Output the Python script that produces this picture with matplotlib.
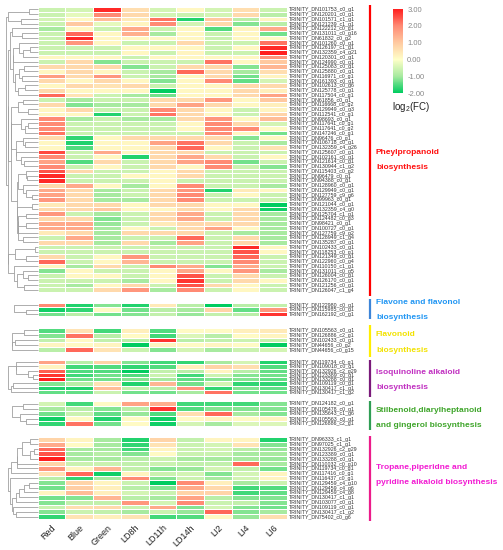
import numpy as np
import matplotlib
matplotlib.use('Agg')
import matplotlib.pyplot as plt
from matplotlib.colors import LinearSegmentedColormap

plt.rcParams['font.family'] = ['Liberation Sans', 'DejaVu Sans']
plt.rcParams['mathtext.default'] = 'regular'

# ---------------- data ----------------
samples = ['Red', 'Blue', 'Green', 'LD8h', 'LD11h', 'LD14h', 'LI2', 'LI4', 'LI6']

g1_labels = [
    'TRINITY_DN101753_c0_g1', 'TRINITY_DN120201_c0_g1', 'TRINITY_DN101571_c1_g1',
    'TRINITY_DN121239_c1_g1', 'TRINITY_DN122212_c0_g1', 'TRINITY_DN131011_c0_g16',
    'TRINITY_DN61832_c0_g2', 'TRINITY_DN101260_c0_g1', 'TRINITY_DN126197_c1_g1',
    'TRINITY_DN132359_c4_g21', 'TRINITY_DN120301_c0_g1', 'TRINITY_DN124990_c0_g1',
    'TRINITY_DN125083_c0_g1', 'TRINITY_DN125880_c0_g1', 'TRINITY_DN116971_c0_g1',
    'TRINITY_DN161393_c0_g1', 'TRINITY_DN102613_c0_g6', 'TRINITY_DN125778_c0_g1',
    'TRINITY_DN117504_c0_g1', 'TRINITY_DN61856_c0_g1', 'TRINITY_DN116668_c0_g2',
    'TRINITY_DN129949_c0_g3', 'TRINITY_DN112541_c0_g1', 'TRINITY_DN98693_c0_g1',
    'TRINITY_DN117641_c0_g1', 'TRINITY_DN117641_c0_g2', 'TRINITY_DN147246_c0_g1',
    'TRINITY_DN96476_c0_g1', 'TRINITY_DN106718_c0_g1', 'TRINITY_DN132359_c4_g26',
    'TRINITY_DN125607_c0_g1', 'TRINITY_DN102161_c0_g1', 'TRINITY_DN121614_c0_g1',
    'TRINITY_DN130944_c1_g2', 'TRINITY_DN115403_c0_g2', 'TRINITY_DN96479_c0_g1',
    'TRINITY_DN94388_c0_g1', 'TRINITY_DN128960_c0_g1', 'TRINITY_DN129949_c0_g1',
    'TRINITY_DN127759_c9_g6', 'TRINITY_DN99963_c0_g1', 'TRINITY_DN121044_c0_g1',
    'TRINITY_DN132359_c4_g0', 'TRINITY_DN125704_c1_g1', 'TRINITY_DN124482_c0_g3',
    'TRINITY_DN98421_c0_g1', 'TRINITY_DN100727_c0_g1', 'TRINITY_DN127759_c9_g2',
    'TRINITY_DN128949_c1_g4', 'TRINITY_DN135287_c0_g1', 'TRINITY_DN102433_c0_g1',
    'TRINITY_DN118253_c0_g1', 'TRINITY_DN121349_c0_g1', 'TRINITY_DN122960_c0_g4',
    'TRINITY_DN110150_c1_g1', 'TRINITY_DN131011_c0_g5', 'TRINITY_DN126004_c0_g1',
    'TRINITY_DN126170_c0_g1', 'TRINITY_DN121256_c0_g1', 'TRINITY_DN126047_c1_g4']
g1_values = [
    [-0.6, -0.5, 2.9, 0.6, -0.5, 0.15, -0.5, 0.6, -0.6],
    [-0.6, -0.3, 2.0, 0.7, -0.5, -0.6, -0.5, 0.7, -0.8],
    [-0.5, 0.15, 1.2, 0.4, 2.2, -1.8, 1.0, -0.8, 0.2],
    [-0.6, 1.0, -0.3, 0.2, 2.0, -0.5, 0.7, -1.2, -0.8],
    [-1.0, 0.15, -0.6, 1.5, -0.6, 0.15, -1.5, 0.2, 1.5],
    [-0.6, 2.3, 0.15, 1.4, -1.0, 0.15, -0.6, 0.15, -1.3],
    [-0.6, 2.9, 0.15, 0.15, 0.15, 0.15, -0.6, 0.15, 0.1],
    [-0.6, 1.8, 0.15, -0.6, -0.6, 0.7, -0.6, -0.6, 2.2],
    [-0.6, -0.6, -0.6, 0.15, 0.15, 0.15, -0.6, 0.15, 2.9],
    [-0.6, -0.6, -0.6, 0.15, -0.6, 0.2, -0.6, -0.6, 3.0],
    [0.15, 0.15, 0.15, -0.6, 0.15, 0.15, 0.15, 0.15, 1.8],
    [-0.6, 0.7, -1.2, -0.6, -0.6, -0.6, 2.2, 0.15, 1.0],
    [0.7, 0.7, 0.7, -1.2, -0.6, 0.7, 0.7, -1.2, 1.3],
    [0.15, 0.7, 0.15, -0.6, -1.0, 2.3, 0.7, -1.0, 0.6],
    [1.7, 0.7, 1.8, -0.6, -1.0, 0.15, 0.7, -1.3, 0.2],
    [0.7, 0.15, 0.7, 0.15, -1.2, 0.15, 2.0, -1.4, -0.5],
    [0.15, 0.7, 0.5, 0.7, -0.6, 0.15, 0.15, 0.7, 0.7],
    [0.7, 0.15, 0.15, 0.15, -2.0, 0.15, 0.15, 0.7, 0.3],
    [2.3, 0.5, -0.6, -1.0, -1.3, 0.15, 0.15, 0.7, 1.6],
    [-0.6, -1.0, -0.6, -0.6, 0.7, 0.7, 1.8, 0.15, 1.0],
    [0.7, -1.2, -1.0, -1.0, 0.7, 1.6, 0.7, 0.15, 0.3],
    [0.15, 0.7, -0.6, -0.6, 2.0, 0.7, 0.15, -0.6, 0.2],
    [0.15, 0.15, -1.8, -0.6, 2.2, 0.7, 0.15, -0.6, 0.8],
    [2.0, -1.0, -0.6, -1.0, -1.0, 0.7, 1.8, 0.15, 1.2],
    [2.0, -0.6, -0.6, -0.6, -0.6, 0.15, 2.0, 0.7, -0.5],
    [2.0, -0.6, -0.6, -0.6, -0.6, 0.15, 2.0, 2.0, 0.1],
    [2.2, -0.6, -0.6, -0.6, -0.6, -0.6, 2.0, 0.15, -1.3],
    [0.7, -1.7, 0.15, 0.7, 0.7, 0.7, 0.7, -1.2, 0.15],
    [0.15, -1.8, 0.15, 0.15, 1.6, 2.2, 0.7, -0.6, -1.0],
    [0.15, -1.5, 0.15, 0.15, 0.7, 2.3, 0.15, -0.6, 0.5],
    [2.6, -0.6, 1.5, 0.15, 0.7, 0.7, -0.6, -0.6, -0.6],
    [2.0, -0.6, 0.15, -1.8, 0.7, 1.5, 0.7, -0.6, 0.15],
    [1.6, -1.5, 0.7, -0.6, 0.7, 1.6, 2.0, -1.3, -0.6],
    [2.0, -0.6, 0.15, -0.6, 0.7, 0.15, 2.0, -0.6, -1.2],
    [2.5, 0.7, -0.6, -0.6, 0.15, 0.7, -0.6, -0.6, -0.6],
    [2.9, -0.6, -0.6, 0.15, 0.15, 0.7, -0.6, -0.6, -0.6],
    [2.9, -0.6, -0.6, -0.6, 0.15, -0.6, -0.6, -0.6, -0.6],
    [0.7, 1.5, 0.15, -1.0, 0.15, 2.0, -0.6, -0.6, -1.0],
    [1.5, 0.7, -1.0, -0.6, 0.7, 1.8, -1.8, 0.4, 0.15],
    [1.6, 0.7, -1.0, -0.6, 0.7, 2.0, -0.6, 0.15, -0.6],
    [1.8, 0.7, -1.0, -1.0, 0.7, 2.0, -0.6, -0.6, -0.6],
    [0.4, 0.7, 0.7, 0.15, 0.7, 0.7, 0.15, 0.15, -2.0],
    [0.7, 0.7, 1.0, 0.15, 0.15, 0.7, 0.15, 0.7, -1.9],
    [1.8, -0.6, -1.0, -0.6, 0.7, 1.5, -0.6, 0.7, -1.0],
    [0.7, 0.7, -1.2, -0.6, 0.7, 1.5, -0.6, 0.7, -1.0],
    [1.5, 1.5, -1.1, -0.6, 0.4, 0.7, 0.7, 0.7, -1.0],
    [1.5, 1.5, -1.0, 0.15, -0.6, 0.7, 1.6, 0.15, -1.0],
    [0.4, 0.7, -1.0, 0.7, 0.7, 0.7, -0.6, -1.0, -1.0],
    [-0.6, 1.5, -1.0, -0.6, -0.6, 2.3, -0.6, 0.7, -1.0],
    [0.7, 0.7, -1.0, 0.7, -1.0, 1.6, -0.6, 0.7, -1.0],
    [-0.6, -0.6, -0.6, -0.6, -0.6, -0.6, -0.6, 2.9, 0.15],
    [-0.6, -0.6, -0.6, -0.6, -0.6, -0.6, -0.6, 2.5, 0.15],
    [0.7, -0.6, 0.15, 1.8, -0.6, -0.6, -0.6, 2.3, -0.6],
    [2.3, -0.6, 0.15, 1.3, -0.6, -0.6, -0.6, 2.0, -0.6],
    [0.15, -1.0, 0.7, -0.6, 2.0, 1.5, -1.2, 1.5, -0.6],
    [-1.2, 0.15, -0.6, -0.6, 0.15, 1.5, 0.15, 1.8, -1.0],
    [-0.6, 0.15, 0.15, -0.6, 0.15, 2.5, -0.6, 0.7, -0.6],
    [-0.6, -0.6, -0.6, -1.0, 0.15, 2.8, -0.6, 0.7, 0.15],
    [-0.6, -1.0, 0.15, 0.7, -0.6, 2.5, 0.7, 0.15, -0.6],
    [-0.6, -0.6, 0.7, 1.8, -1.0, 2.0, -0.6, 0.15, -0.6]]

g2_labels = ['TRINITY_DN122980_c0_g1', 'TRINITY_DN115985_c0_g1', 'TRINITY_DN162192_c0_g1']
g2_values = [
    [2.0, -1.8, -1.2, -1.8, 0.4, -0.8, -2.0, -0.8, -0.7],
    [-1.9, -1.7, 0.1, -1.3, -0.8, -1.0, 0.8, -1.4, 1.8],
    [-1.3, -0.8, -1.3, -1.2, -0.7, -1.1, -0.7, -0.8, 2.8]]

g3_labels = ['TRINITY_DN105563_c0_g1', 'TRINITY_DN126886_c2_g1', 'TRINITY_DN102433_c0_g1',
             'TRINITY_DN44656_c0_g2', 'TRINITY_DN44656_c0_g15']
g3_values = [
    [-1.5, 0.5, -1.6, 0.3, -1.5, 0.1, 0.1, 0.3, 0.4],
    [-1.2, 2.2, -0.8, 0.1, -1.6, -0.4, -0.8, 0.1, 0.2],
    [-0.7, 0.1, -0.7, -0.8, 2.8, -0.8, -0.7, -0.6, -0.7],
    [0.2, 0.1, 0.2, -2.0, 0.2, 0.1, 0.2, 0.1, -2.0],
    [-0.8, 2.3, 0.5, -0.6, -1.2, -0.5, -1.0, -0.6, -0.5]]

g4_labels = ['TRINITY_DN119734_c0_g1', 'TRINITY_DN109018_c0_g1', 'TRINITY_DN132926_c2_g29',
             'TRINITY_DN123389_c0_g1', 'TRINITY_DN133288_c0_g1', 'TRINITY_DN109119_c0_g1',
             'TRINITY_DN130417_c1_g1', 'TRINITY_DN130417_c1_g2']
g4_values = [
    [1.6, -0.8, 0.8, -1.2, -1.6, -1.7, -1.0, -0.5, -1.8],
    [0.2, -1.6, -1.5, -1.7, -1.5, 0.3, 0.8, 0.6, -1.5],
    [2.4, -1.5, -1.5, -2.0, -0.7, -0.8, 0.2, -0.8, -1.4],
    [2.8, -1.6, -1.3, -1.5, -0.6, -1.6, -0.6, -1.2, -1.3],
    [3.0, -1.3, -1.3, -1.2, -1.0, -1.4, -1.2, -1.2, -1.4],
    [-1.2, -0.8, 0.5, -1.8, 1.3, -1.3, -0.5, -1.7, -1.7],
    [-1.8, -1.8, 1.2, -0.7, -0.8, 1.8, -1.7, -1.2, -1.4],
    [-1.4, -1.4, -0.6, -1.3, -1.3, -1.0, 2.2, -1.3, -1.3]]

g5_labels = ['TRINITY_DN124182_c0_g1', 'TRINITY_DN105478_c0_g1', 'TRINITY_DN135643_c1_g6',
             'TRINITY_DN105563_c0_g1', 'TRINITY_DN126886_c2_g1']
g5_values = [
    [-0.5, -1.6, 0.1, 1.6, 1.4, -1.6, -1.6, -1.6, -1.2],
    [-1.0, -0.8, -1.2, -0.8, 2.8, -1.5, -1.2, -1.2, -1.2],
    [-1.3, -0.6, -1.4, -1.1, -1.5, 0.6, 2.3, -1.0, -1.2],
    [-1.9, 0.1, -1.8, 0.1, -1.9, 0.1, 0.2, 0.1, 0.2],
    [-1.7, 2.2, -1.3, 0.1, -1.9, -0.5, -1.0, -0.4, -0.4]]

g6_labels = ['TRINITY_DN96333_c1_g1', 'TRINITY_DN97025_c1_g1', 'TRINITY_DN132926_c2_g29',
             'TRINITY_DN123389_c0_g1', 'TRINITY_DN133288_c0_g1', 'TRINITY_DN110032_c0_g10',
             'TRINITY_DN119734_c0_g1', 'TRINITY_DN117416_c0_g1', 'TRINITY_DN116437_c0_g1',
             'TRINITY_DN129459_c4_g10', 'TRINITY_DN129459_c4_g6', 'TRINITY_DN129459_c4_g8',
             'TRINITY_DN130417_c1_g1', 'TRINITY_DN103077_c0_g1', 'TRINITY_DN109119_c0_g1',
             'TRINITY_DN130417_c1_g2', 'TRINITY_DN75402_c0_g6']
g6_values = [
    [0.8, 0.2, -1.0, -1.8, 0.8, -0.7, 0.2, 0.2, -1.8],
    [1.5, 0.1, -1.0, -1.7, 0.5, -0.6, -0.5, 0.5, -1.2],
    [2.3, -1.0, -1.0, -1.6, 0.2, -0.6, -0.5, -0.8, -1.1],
    [2.5, -1.0, -0.8, -1.2, 0.1, -0.6, -0.6, -1.0, -1.0],
    [3.0, -1.0, -1.0, -0.8, -0.6, -1.0, -1.0, -1.0, -1.1],
    [0.8, -0.6, -0.6, -0.7, -0.6, -0.7, -0.7, 2.3, -1.0],
    [1.8, 0.2, 1.3, -0.7, -1.2, -1.1, -0.5, -0.7, -1.3],
    [0.5, 2.3, -1.9, 0.2, -0.6, -0.5, -1.2, -0.5, 0.2],
    [-0.8, -1.7, -1.0, 2.0, -1.2, -0.6, -1.0, -0.5, 0.2],
    [-1.2, 0.8, 0.2, -0.6, -2.0, 2.0, 0.3, -1.0, -0.6],
    [-1.3, 0.9, 0.3, -0.8, -1.2, 1.5, 0.7, -1.6, -1.5],
    [0.2, 1.2, 0.3, -0.5, -0.6, 0.8, 0.8, -1.6, -1.4],
    [-1.3, -1.2, 1.3, -0.8, -1.0, 1.6, -0.8, -1.2, -1.2],
    [-1.2, -0.7, -0.7, 1.8, -0.5, 2.0, -0.6, -0.7, -1.2],
    [-0.6, 0.6, 0.7, -0.6, 1.5, -1.2, -0.5, -1.2, -1.3],
    [-1.2, -0.6, -0.7, -1.0, -0.6, -1.1, 2.3, -1.2, -1.0],
    [-1.7, 0.5, 0.3, 0.5, -1.6, -1.5, 0.1, -1.1, 0.6]]

pathways = [['Pheylpropanoid', 'biosynthesis'],
            ['Flavone and flavonol', 'biosynthesis'],
            ['Flavonoid', 'biosynthesis'],
            ['Isoquinoline alkaloid', 'biosynthesis'],
            ['Stilbenoid,diarylheptanoid', 'and gingerol biosynthesis'],
            ['Tropane,piperidne and', 'pyridine alkaloid biosynthesis']]

groups = [(g1_labels, g1_values), (g2_labels, g2_values), (g3_labels, g3_values),
          (g4_labels, g4_values), (g5_labels, g5_values), (g6_labels, g6_values)]

# ---------------- layout (pixels) ----------------
W, H = 503, 550
heat_x0, heat_x1 = 37.7, 287
heat_spans = [(7, 292), (303, 316), (328, 352), (360, 394), (401, 426), (437, 519)]
dend_root_x = [6, 14, 11.7, 8.3, 11.7, 8.3]
bracket_spans = [(5, 296), (299, 319), (325, 357), (360, 397), (401, 430), (436, 521)]
text_mid = [160, 309.8, 342.5, 379.7, 418.4, 475.4]
line_colors = ['#ff0000', '#3d85d8', '#ffee00', '#7a1a7a', '#2f9e55', '#ec1b8a']
text_colors = ['#ff1010', '#2196f3', '#f2e200', '#c02fc0', '#3ea52a', '#f21ad2']

cmap = LinearSegmentedColormap.from_list('fc', [
    (0.0, '#00cc60'), (0.2, '#a8eaa0'), (0.4, '#ffffc8'),
    (0.6, '#ffc9a0'), (0.8, '#ff8a74'), (1.0, '#ff1f1f')])


def fig_rect(x0, x1, y0, y1):
    return [x0 / W, 1 - y1 / H, (x1 - x0) / W, (y1 - y0) / H]


def adjacent_linkage(vals):
    # average-linkage clustering where only neighbouring clusters may merge
    vals = np.asarray(vals)
    clusters = [{'m': [i], 'y': i + 0.5, 'h': 0.0} for i in range(len(vals))]
    links = []
    while len(clusters) > 1:
        best, bd = 0, None
        for k in range(len(clusters) - 1):
            a, b = clusters[k], clusters[k + 1]
            d = np.mean([np.linalg.norm(vals[i] - vals[j]) for i in a['m'] for j in b['m']])
            if bd is None or d < bd:
                best, bd = k, d
        a, b = clusters[best], clusters[best + 1]
        h = max(bd, a['h'], b['h'])
        links.append((a['y'], a['h'], b['y'], b['h'], h))
        clusters[best:best + 2] = [{'m': a['m'] + b['m'], 'y': (a['y'] + b['y']) / 2, 'h': h}]
    return links, clusters[0]['h']


fig = plt.figure(figsize=(W / 100, H / 100), dpi=100)

for gi, (labels, values) in enumerate(groups):
    y0, y1 = heat_spans[gi]
    data = np.array(values)
    n = len(labels)

    ax = fig.add_axes(fig_rect(heat_x0, heat_x1, y0, y1))
    ax.pcolormesh(data, cmap=cmap, vmin=-2, vmax=3, edgecolors='white', linewidth=0.6)
    ax.set_ylim(n, 0)
    ax.set_xlim(0, len(samples))
    ax.set_yticks(np.arange(n) + 0.5)
    ax.set_yticklabels(labels, fontsize=3.8, color='#333333')
    ax.yaxis.tick_right()
    ax.tick_params(axis='y', length=0, pad=1.5)
    for s in ax.spines.values():
        s.set_visible(False)
    if gi == len(groups) - 1:
        ax.set_xticks(np.arange(len(samples)) + 0.5)
        ax.set_xticklabels(samples, rotation=45, ha='right', rotation_mode='anchor',
                           fontsize=6.5, color='#222222')
        ax.tick_params(axis='x', length=0, pad=3)
    else:
        ax.set_xticks([])

    # dendrogram
    dax = fig.add_axes(fig_rect(dend_root_x[gi], heat_x0, y0, y1))
    links, root_h = adjacent_linkage(data)
    for ya, ha, yb, hb, h in links:
        dax.plot([ha, h, h, hb], [ya, ya, yb, yb], color='#a0a0a0', lw=0.6,
                 solid_capstyle='butt', clip_on=False)
    dax.set_xlim(root_h, 0)
    dax.set_ylim(n, 0)
    dax.axis('off')

# pathway brackets and names
ov = fig.add_axes([0, 0, 1, 1])
ov.set_xlim(0, W)
ov.set_ylim(H, 0)
ov.axis('off')
for gi, names in enumerate(pathways):
    b0, b1 = bracket_spans[gi]
    ov.plot([370, 370], [b0, b1], color=line_colors[gi], lw=1.6, solid_capstyle='butt')
    ov.text(376, text_mid[gi] - 7.5, names[0], color=text_colors[gi], fontsize=6,
            fontweight='bold', va='center', ha='left')
    ov.text(376, text_mid[gi] + 7.5, names[1], color=text_colors[gi], fontsize=6,
            fontweight='bold', va='center', ha='left')

# colour bar
cax = fig.add_axes(fig_rect(393, 403, 9, 93))
sm = plt.cm.ScalarMappable(cmap=cmap, norm=plt.Normalize(-2, 3))
cb = fig.colorbar(sm, cax=cax, ticks=[-2, -1, 0, 1, 2, 3], format='%.2f')
cb.outline.set_visible(False)
cax.tick_params(length=0, labelsize=5.5, labelcolor='#888888', pad=3)
fig.text(392 / W, 1 - 107 / H, 'log$_2$(FC)', fontsize=7, color='#222222', va='center', ha='left')

fig.savefig('out.png', dpi=100, facecolor='white')
